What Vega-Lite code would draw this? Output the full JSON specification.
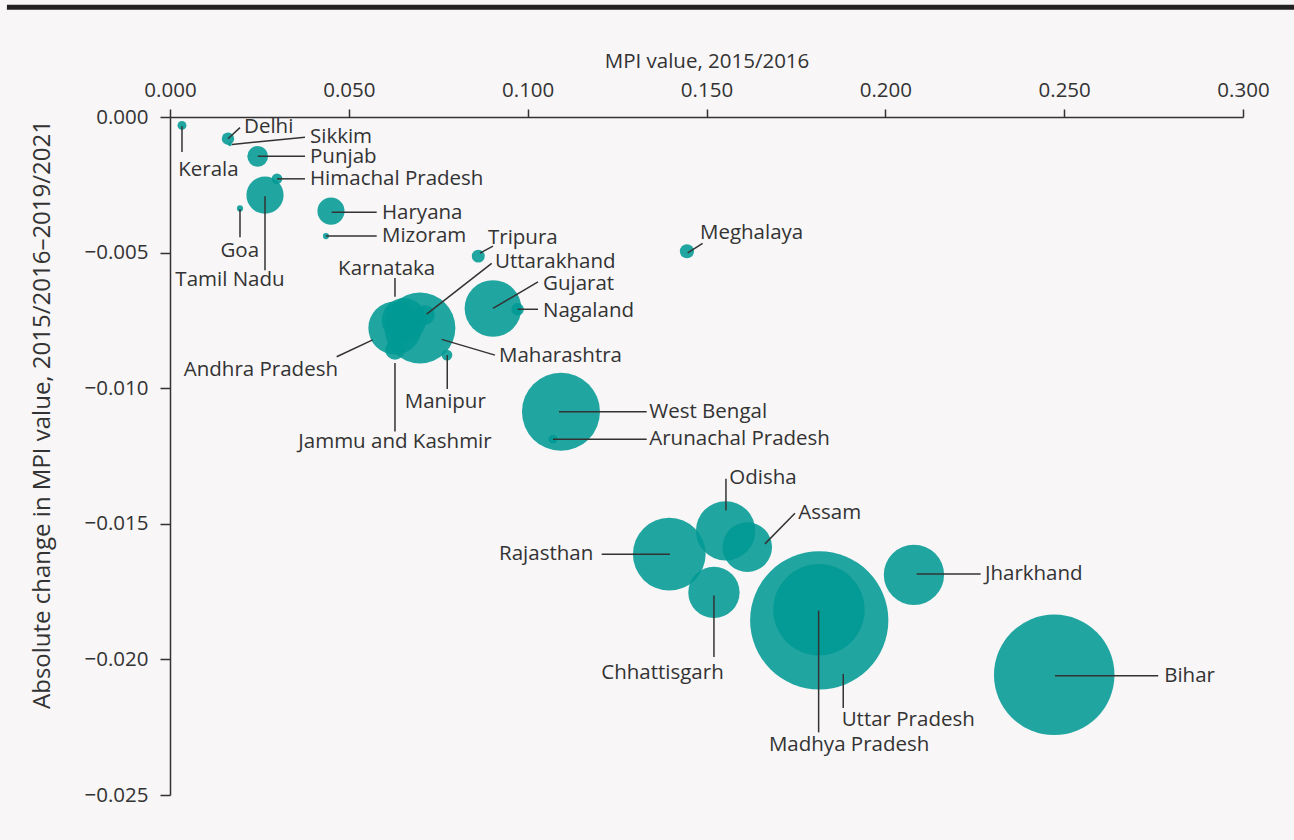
{
  "$schema": "https://vega.github.io/schema/vega-lite/v6.json",
  "autosize": {"type": "none"},
  "width": 1073,
  "height": 678,
  "padding": {"left": 170, "top": 117, "right": 51, "bottom": 45},
  "config": {
    "background": "#f8f6f7",
    "view": {"stroke": null},
    "font": "Open Sans",
    "text": {"font": "Open Sans"}
  },
  "datasets": {
    "states": [
      {"state": "Uttar Pradesh", "mpi": 0.18152, "change": -0.01856, "poor": 85.7, "lx": 0.18778, "ly": -0.02222, "side": "left", "ax1": 0.18823, "ay1": -0.02054, "ax2": 0.18823, "ay2": -0.02179},
      {"state": "Bihar", "mpi": 0.24722, "change": -0.02057, "poor": 65.1, "lx": 0.27797, "ly": -0.02063, "side": "left", "ax1": 0.24742, "ay1": -0.0206, "ax2": 0.27629, "ay2": -0.0206},
      {"state": "Madhya Pradesh", "mpi": 0.18144, "change": -0.01817, "poor": 37.4, "lx": 0.18988, "ly": -0.02314, "side": "center", "ax1": 0.18135, "ay1": -0.0182, "ax2": 0.18135, "ay2": -0.02269},
      {"state": "West Bengal", "mpi": 0.10931, "change": -0.01087, "poor": 27.3, "lx": 0.134, "ly": -0.01087, "side": "left", "ax1": 0.10875, "ay1": -0.01087, "ax2": 0.13327, "ay2": -0.01087},
      {"state": "Rajasthan", "mpi": 0.13959, "change": -0.01612, "poor": 23.7, "lx": 0.11834, "ly": -0.01612, "side": "right", "ax1": 0.12069, "ay1": -0.01612, "ax2": 0.13978, "ay2": -0.01612},
      {"state": "Maharashtra", "mpi": 0.06989, "change": -0.00778, "poor": 22.5, "lx": 0.09198, "ly": -0.00881, "side": "left", "ax1": 0.07596, "ay1": -0.0082, "ax2": 0.09086, "ay2": -0.00878},
      {"state": "Jharkhand", "mpi": 0.208, "change": -0.01688, "poor": 16.3, "lx": 0.22784, "ly": -0.01685, "side": "left", "ax1": 0.20875, "ay1": -0.01685, "ax2": 0.22664, "ay2": -0.01685},
      {"state": "Odisha", "mpi": 0.15535, "change": -0.01526, "poor": 15.8, "lx": 0.15636, "ly": -0.01332, "side": "left", "ax1": 0.15544, "ay1": -0.01334, "ax2": 0.15544, "ay2": -0.01451},
      {"state": "Gujarat", "mpi": 0.0903, "change": -0.00706, "poor": 14.4, "lx": 0.10428, "ly": -0.00616, "side": "left", "ax1": 0.0903, "ay1": -0.00706, "ax2": 0.10288, "ay2": -0.00608},
      {"state": "Andhra Pradesh", "mpi": 0.0629, "change": -0.00778, "poor": 12.7, "lx": 0.04697, "ly": -0.00933, "side": "right", "ax1": 0.0466, "ay1": -0.00884, "ax2": 0.05667, "ay2": -0.00822},
      {"state": "Chhattisgarh", "mpi": 0.15208, "change": -0.01753, "poor": 11.8, "lx": 0.13769, "ly": -0.0205, "side": "center", "ax1": 0.15208, "ay1": -0.01764, "ax2": 0.15208, "ay2": -0.01991},
      {"state": "Assam", "mpi": 0.1614, "change": -0.01586, "poor": 11.0, "lx": 0.17565, "ly": -0.01459, "side": "left", "ax1": 0.16634, "ay1": -0.01574, "ax2": 0.17473, "ay2": -0.01461},
      {"state": "Karnataka", "mpi": 0.06542, "change": -0.00749, "poor": 8.8, "lx": 0.06058, "ly": -0.00561, "side": "center", "ax1": 0.0629, "ay1": -0.00594, "ax2": 0.0629, "ay2": -0.00663},
      {"state": "Tamil Nadu", "mpi": 0.02656, "change": -0.00288, "poor": 6.21, "lx": 0.01677, "ly": -0.00601, "side": "center", "ax1": 0.02656, "ay1": -0.00292, "ax2": 0.02656, "ay2": -0.00565},
      {"state": "Haryana", "mpi": 0.04501, "change": -0.00347, "poor": 3.3, "lx": 0.05927, "ly": -0.00354, "side": "left", "ax1": 0.0452, "ay1": -0.00351, "ax2": 0.05779, "ay2": -0.00351},
      {"state": "Punjab", "mpi": 0.02452, "change": -0.00145, "poor": 1.93, "lx": 0.03914, "ly": -0.00147, "side": "left", "ax1": 0.02452, "ay1": -0.00145, "ax2": 0.03774, "ay2": -0.00145},
      {"state": "Uttarakhand", "mpi": 0.07129, "change": -0.0073, "poor": 1.7, "lx": 0.09086, "ly": -0.00534, "side": "left", "ax1": 0.07176, "ay1": -0.00727, "ax2": 0.08994, "ay2": -0.0054},
      {"state": "Jammu and Kashmir", "mpi": 0.0629, "change": -0.00859, "poor": 1.7, "lx": 0.0629, "ly": -0.01197, "side": "center", "ax1": 0.0629, "ay1": -0.00907, "ax2": 0.0629, "ay2": -0.0116},
      {"state": "Meghalaya", "mpi": 0.14453, "change": -0.00495, "poor": 0.9, "lx": 0.14817, "ly": -0.00429, "side": "left", "ax1": 0.14473, "ay1": -0.00501, "ax2": 0.14892, "ay2": -0.00466},
      {"state": "Tripura", "mpi": 0.08619, "change": -0.00513, "poor": 0.75, "lx": 0.0889, "ly": -0.00447, "side": "left", "ax1": 0.08667, "ay1": -0.00502, "ax2": 0.0903, "ay2": -0.00476},
      {"state": "Delhi", "mpi": 0.01621, "change": -0.0008, "poor": 0.69, "lx": 0.02069, "ly": -0.00038, "side": "left", "ax1": 0.01621, "ay1": -0.0008, "ax2": 0.01957, "ay2": -0.00039},
      {"state": "Nagaland", "mpi": 0.0972, "change": -0.00709, "poor": 0.69, "lx": 0.10428, "ly": -0.00715, "side": "left", "ax1": 0.0972, "ay1": -0.00709, "ax2": 0.10288, "ay2": -0.00709},
      {"state": "Himachal Pradesh", "mpi": 0.02991, "change": -0.00228, "poor": 0.51, "lx": 0.03914, "ly": -0.00228, "side": "left", "ax1": 0.02991, "ay1": -0.00228, "ax2": 0.03774, "ay2": -0.00228},
      {"state": "Manipur", "mpi": 0.07744, "change": -0.00878, "poor": 0.51, "lx": 0.07696, "ly": -0.0105, "side": "center", "ax1": 0.07752, "ay1": -0.00878, "ax2": 0.07752, "ay2": -0.01003},
      {"state": "Kerala", "mpi": 0.00335, "change": -0.00031, "poor": 0.35, "lx": 0.01076, "ly": -0.00194, "side": "center", "ax1": 0.00335, "ay1": -0.00034, "ax2": 0.00335, "ay2": -0.00129},
      {"state": "Arunachal Pradesh", "mpi": 0.10707, "change": -0.01188, "poor": 0.35, "lx": 0.134, "ly": -0.01188, "side": "left", "ax1": 0.10707, "ay1": -0.01188, "ax2": 0.13327, "ay2": -0.01188},
      {"state": "Goa", "mpi": 0.01957, "change": -0.00337, "poor": 0.17, "lx": 0.01949, "ly": -0.00494, "side": "center", "ax1": 0.01957, "ay1": -0.0034, "ax2": 0.01957, "ay2": -0.00443},
      {"state": "Mizoram", "mpi": 0.04361, "change": -0.00439, "poor": 0.17, "lx": 0.05927, "ly": -0.00439, "side": "left", "ax1": 0.04361, "ay1": -0.00439, "ax2": 0.05779, "ay2": -0.00439},
      {"state": "Sikkim", "mpi": 0.01677, "change": -0.00101, "poor": 0.06, "lx": 0.03914, "ly": -0.00074, "side": "left", "ax1": 0.01733, "ay1": -0.00101, "ax2": 0.03774, "ay2": -0.00075}
    ]
  },
  "data": {"name": "states"},
  "layer": [
    {
      "mark": {"type": "circle", "color": "#009993", "opacity": 0.87, "strokeWidth": 0},
      "encoding": {
        "x": {
          "field": "mpi", "type": "quantitative",
          "title": "MPI value, 2015/2016",
          "scale": {"domain": [0, 0.3], "nice": false, "zero": false},
          "axis": {
            "orient": "top", "values": [0, 0.05, 0.1, 0.15, 0.2, 0.25, 0.3], "format": ".3f",
            "grid": false, "labelFlush": false, "domainColor": "#333333", "domainWidth": 1.5,
            "tickColor": "#333333", "tickSize": 8, "tickWidth": 1.5,
            "labelFont": "Open Sans", "labelFontSize": 20.5, "labelColor": "#333333", "labelPadding": 9,
            "titleFont": "Open Sans", "titleFontSize": 20.5, "titleFontWeight": "normal", "titleColor": "#333333", "titlePadding": 9
          }
        },
        "y": {
          "field": "change", "type": "quantitative",
          "title": "Absolute change in MPI value, 2015/2016–2019/2021",
          "scale": {"domain": [-0.025, 0], "nice": false, "zero": false},
          "axis": {
            "orient": "left", "values": [0, -0.005, -0.01, -0.015, -0.02, -0.025], "format": ".3f",
            "grid": false, "labelFlush": false, "domainColor": "#333333", "domainWidth": 1.5,
            "tickColor": "#333333", "tickSize": 10, "tickWidth": 1.5,
            "labelFont": "Open Sans", "labelFontSize": 20.5, "labelColor": "#333333", "labelPadding": 12,
            "titleFont": "Open Sans", "titleFontSize": 24, "titleFontWeight": "normal", "titleColor": "#333333",
            "titleX": -128, "titleY": 297, "titleBaseline": "middle"
          }
        },
        "size": {"field": "poor", "type": "quantitative", "scale": {"type": "linear", "domain": [0, 100], "range": [0, 22305]}, "legend": null}
      }
    },
    {
      "mark": {"type": "rule", "color": "#333333", "strokeWidth": 1.5},
      "encoding": {
        "x": {"field": "ax1", "type": "quantitative", "title": "MPI value, 2015/2016", "scale": {"domain": [0, 0.3], "nice": false, "zero": false}},
        "x2": {"field": "ax2"},
        "y": {"field": "ay1", "type": "quantitative", "title": "Absolute change in MPI value, 2015/2016–2019/2021", "scale": {"domain": [-0.025, 0], "nice": false, "zero": false}},
        "y2": {"field": "ay2"}
      }
    },
    {
      "data": {"values": [{"bx1": -0.0456, "bx2": 0.3143, "by": 0.00405}]},
      "mark": {"type": "rule", "color": "#222222", "strokeWidth": 5},
      "encoding": {
        "x": {"field": "bx1", "type": "quantitative", "title": "MPI value, 2015/2016", "scale": {"domain": [0, 0.3], "nice": false, "zero": false}},
        "x2": {"field": "bx2"},
        "y": {"field": "by", "type": "quantitative", "title": "Absolute change in MPI value, 2015/2016–2019/2021", "scale": {"domain": [-0.025, 0], "nice": false, "zero": false}}
      }
    },
    {
      "transform": [{"filter": "datum.side === 'left'"}],
      "mark": {"type": "text", "align": "left", "baseline": "middle", "fontSize": 20.5, "color": "#333333", "font": "Open Sans"},
      "encoding": {
        "x": {"field": "lx", "type": "quantitative", "title": "MPI value, 2015/2016", "scale": {"domain": [0, 0.3], "nice": false, "zero": false}},
        "y": {"field": "ly", "type": "quantitative", "title": "Absolute change in MPI value, 2015/2016–2019/2021", "scale": {"domain": [-0.025, 0], "nice": false, "zero": false}},
        "text": {"field": "state"}
      }
    },
    {
      "transform": [{"filter": "datum.side === 'center'"}],
      "mark": {"type": "text", "align": "center", "baseline": "middle", "fontSize": 20.5, "color": "#333333", "font": "Open Sans"},
      "encoding": {
        "x": {"field": "lx", "type": "quantitative", "title": "MPI value, 2015/2016", "scale": {"domain": [0, 0.3], "nice": false, "zero": false}},
        "y": {"field": "ly", "type": "quantitative", "title": "Absolute change in MPI value, 2015/2016–2019/2021", "scale": {"domain": [-0.025, 0], "nice": false, "zero": false}},
        "text": {"field": "state"}
      }
    },
    {
      "transform": [{"filter": "datum.side === 'right'"}],
      "mark": {"type": "text", "align": "right", "baseline": "middle", "fontSize": 20.5, "color": "#333333", "font": "Open Sans"},
      "encoding": {
        "x": {"field": "lx", "type": "quantitative", "title": "MPI value, 2015/2016", "scale": {"domain": [0, 0.3], "nice": false, "zero": false}},
        "y": {"field": "ly", "type": "quantitative", "title": "Absolute change in MPI value, 2015/2016–2019/2021", "scale": {"domain": [-0.025, 0], "nice": false, "zero": false}},
        "text": {"field": "state"}
      }
    }
  ]
}
